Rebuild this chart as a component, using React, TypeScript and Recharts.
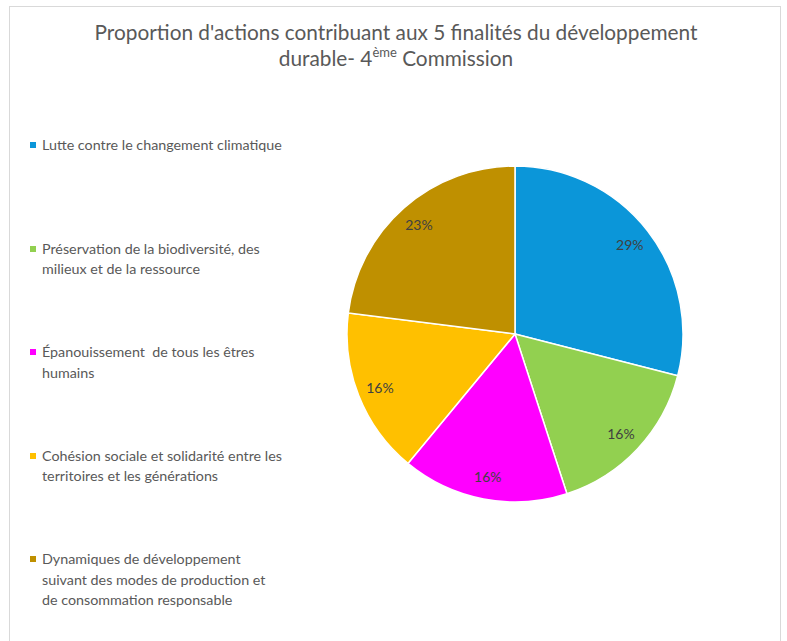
import { PieChart, Pie, Cell, Legend } from 'recharts';

const categories = [
  'Lutte contre le changement climatique',
  'Préservation de la biodiversité, des milieux et de la ressource',
  'Épanouissement  de tous les êtres humains',
  'Cohésion sociale et solidarité entre les territoires et les générations',
  'Dynamiques de développement suivant des modes de production et de consommation responsable',
];

const legendLines = [
  ['Lutte contre le changement climatique'],
  ['Préservation de la biodiversité, des', 'milieux et de la ressource'],
  ['Épanouissement  de tous les êtres', 'humains'],
  ['Cohésion sociale et solidarité entre les', 'territoires et les générations'],
  ['Dynamiques de développement', 'suivant des modes de production et', 'de consommation responsable'],
];

const shares = [29, 16, 16, 16, 23];

const colors = ['#0B96D9', '#92D050', '#FF00FF', '#FFC000', '#BF9000'];

const data = categories.map((name, i) => ({ name, value: shares[i] }));

const FONT = 'Lato, "Open Sans", sans-serif';
const RAD = Math.PI / 180;

function renderLabel(props: any) {
  const { cx, cy, midAngle, outerRadius, value } = props;
  const r = outerRadius * 0.865;
  const x = cx + r * Math.cos(-midAngle * RAD);
  const y = cy + r * Math.sin(-midAngle * RAD);
  return (
    <text x={x} y={y} textAnchor="middle" dominantBaseline="central" fill="#404040" fontSize={14} fontFamily={FONT}>
      {value}%
    </text>
  );
}

function LegendContent() {
  return (
    <div style={{ fontFamily: FONT, fontSize: 14.3, color: '#595959' }}>
      {legendLines.map((lines, i) => (
        <div key={i} style={{ position: 'absolute', left: 0, top: i * 103.5, whiteSpace: 'pre' }}>
          <span
            style={{
              position: 'absolute',
              left: 0,
              top: 7,
              width: 6,
              height: 6,
              background: colors[i],
            }}
          />
          <div style={{ marginLeft: 12, lineHeight: '20.5px' }}>
            {lines.map((l, j) => (
              <div key={j}>{l}</div>
            ))}
          </div>
        </div>
      ))}
    </div>
  );
}

export default function App() {
  return (
    <div
      style={{
        position: 'absolute',
        left: 9,
        top: 6,
        width: 772,
        height: 660,
        border: '1px solid #d9d9d9',
        background: '#fff',
        boxSizing: 'border-box',
      }}
    >
      <div
        style={{
          position: 'absolute',
          left: 0,
          top: 12,
          width: 772,
          textAlign: 'center',
          fontFamily: FONT,
          fontSize: 20.8,
          lineHeight: '26px',
          color: '#595959',
        }}
      >
        <div>Proportion d'actions contribuant aux 5 finalités du développement</div>
        <div>
          durable- 4<sup style={{ fontSize: 13, verticalAlign: 'top', lineHeight: '14px' }}>ème</sup> Commission
        </div>
      </div>
      <PieChart
        width={770}
        height={650}
        margin={{ top: 0, right: 0, bottom: 0, left: 0 }}
        style={{ position: 'absolute', left: 0, top: 0 }}
      >
        <Pie
          data={data}
          dataKey="value"
          nameKey="name"
          cx={505}
          cy={327}
          outerRadius={168}
          startAngle={90}
          endAngle={-270}
          stroke="#fff"
          strokeWidth={1.5}
          label={renderLabel}
          labelLine={false}
          isAnimationActive={false}
        >
          {data.map((d, i) => (
            <Cell key={d.name} fill={colors[i]} />
          ))}
        </Pie>
        <Legend
          layout="vertical"
          content={<LegendContent />}
          wrapperStyle={{ position: 'absolute', left: 20, top: 128, width: 290, height: 480 }}
        />
      </PieChart>
    </div>
  );
}
